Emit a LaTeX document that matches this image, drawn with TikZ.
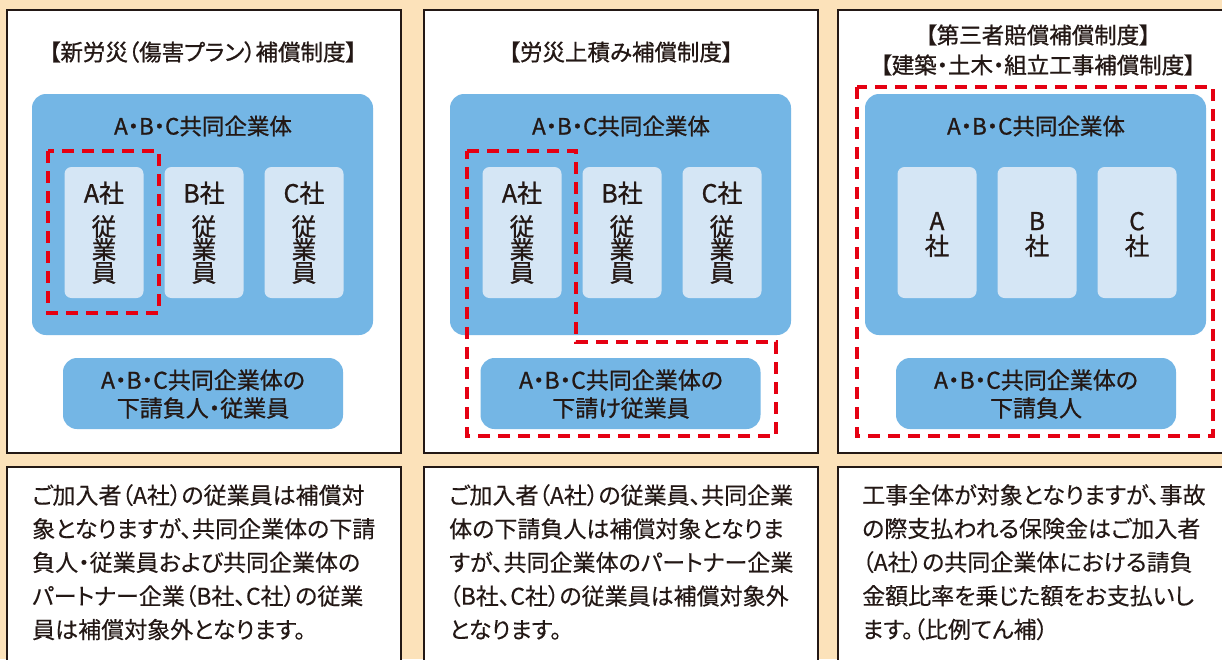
\documentclass[tikz,border=0pt]{standalone}
\usepackage{fontspec}
\setmainfont{Noto Sans CJK JP}[RawFeature=+palt]
\newfontfamily\jpm{Noto Sans CJK JP}[RawFeature=+palt, FakeBold=0.9]
\newfontfamily\jpr{Noto Sans CJK JP}[RawFeature=+palt, FakeBold=0.25]
\definecolor{bgpeach}{HTML}{FCE2BA}
\definecolor{ink}{HTML}{231815}
\definecolor{jvblue}{HTML}{74B6E5}
\definecolor{subblue}{HTML}{D5E6F5}
\definecolor{dashred}{HTML}{E50012}
\tikzset{
  panel/.style={draw=ink, line width=2.5pt, fill=white},
  bigbox/.style={fill=jvblue, rounded corners=14pt},
  subbox/.style={fill=subblue, rounded corners=7pt},
  redline/.style={draw=dashred, line width=3.2pt, dash pattern=on 12pt off 8pt},
  ttl/.style={text=ink, inner sep=0pt, font=\jpm\fontsize{22.5}{24}\selectfont},
  lbl/.style={text=ink, inner sep=0pt, font=\jpm\fontsize{23}{28}\selectfont, align=center},
  co/.style={text=ink, inner sep=0pt, font=\jpm\fontsize{22.5}{24}\selectfont},
  cotag/.style={text=ink, inner sep=0pt, font=\jpm\fontsize{25}{26}\selectfont},
  vert/.style={text=ink, inner sep=0pt, font=\jpm\fontsize{24.5}{23}\selectfont, align=center},
  vert3/.style={text=ink, inner sep=0pt, font=\jpm\fontsize{24.5}{25}\selectfont, align=center},
  body/.style={text=ink, inner sep=0pt, anchor=north west, align=left, font=\jpr\fontsize{23}{33.6}\selectfont},
}
\begin{document}
\begin{tikzpicture}[x=1pt,y=-1pt]
\useasboundingbox (0,0) rectangle (1222,659);
\fill[bgpeach] (0,0) rectangle (1222,659);
% panels
\draw[panel] (7,10) rectangle (401,453);
\draw[panel] (424,10) rectangle (818,453);
\draw[panel] (838,10) rectangle (1240,453);
\draw[panel] (7,467) rectangle (401,690);
\draw[panel] (424,467) rectangle (818,690);
\draw[panel] (838,467) rectangle (1240,690);

% ---------- panel 1 ----------
\node[ttl] (t1) at (203,52) {【新労災（傷害プラン）補償制度】};
\node[bigbox, minimum width=341pt, minimum height=241pt] (j1) at (202.5,214.5) {};
\node[co] (j1l) at (203,126) {A・B・C共同企業体};
\foreach \n/\c/\cx in {a/A/104, b/B/204, c/C/304}{
  \node[subbox, minimum width=79pt, minimum height=131pt] (s1\n) at (\cx,232.5) {};
  \node[cotag] (s1\n t) at (\cx,193) {\c 社};
  \node[vert] (s1\n v) at (\cx,249.5) {従\\業\\員};
}
\draw[redline] (48,151) rectangle (159,313);
\node[bigbox, minimum width=280pt, minimum height=71pt] (u1) at (203,393.5) {};
\node[lbl] (u1l) at (203,394) {A・B・C共同企業体の\\下請負人・従業員};

% ---------- panel 2 ----------
\node[ttl] (t2) at (621,52) {【労災上積み補償制度】};
\node[bigbox, minimum width=341pt, minimum height=241pt] (j2) at (620.5,214.5) {};
\node[co] (j2l) at (621,126) {A・B・C共同企業体};
\foreach \n/\c/\cx in {a/A/522, b/B/622, c/C/722}{
  \node[subbox, minimum width=79pt, minimum height=131pt] (s2\n) at (\cx,232.5) {};
  \node[cotag] (s2\n t) at (\cx,193) {\c 社};
  \node[vert] (s2\n v) at (\cx,249.5) {従\\業\\員};
}
\node[bigbox, minimum width=280pt, minimum height=71pt] (u2) at (620.5,393.5) {};
\node[lbl] (u2l) at (621,394) {A・B・C共同企業体の\\下請け従業員};
\draw[redline] (467,151) -- (576,151) -- (576,342) -- (776,342) -- (776,436) -- (467,436) -- cycle;

% ---------- panel 3 ----------
\node[ttl] (t3a) at (1038,35) {【第三者賠償補償制度】};
\node[ttl] (t3b) at (1038,65) {【建築・土木・組立工事補償制度】};
\node[bigbox, minimum width=341pt, minimum height=241pt] (j3) at (1035.5,214.5) {};
\node[co] (j3l) at (1036,126) {A・B・C共同企業体};
\foreach \n/\c/\cx in {a/A/937, b/B/1037, c/C/1137}{
  \node[subbox, minimum width=79pt, minimum height=131pt] (s3\n) at (\cx,232.5) {};
  \node[vert3] (s3\n v) at (\cx,234.5) {\c\\社};
}
\node[bigbox, minimum width=280pt, minimum height=71pt] (u3) at (1036,393.5) {};
\node[lbl] (u3l) at (1036,394) {A・B・C共同企業体の\\下請負人};
\draw[redline] (857,87) rectangle (1213,436);

% ---------- bottom texts ----------
\node[body] (b1) at (32,484) {ご加入者（A社）の従業員は補償対\\象となりますが、共同企業体の下請\\負人・従業員および共同企業体の\\パートナー企業（B社、C社）の従業\\員は補償対象外となります。};
\node[body] (b2) at (449,484) {ご加入者（A社）の従業員、共同企業\\体の下請負人は補償対象となりま\\すが、共同企業体のパートナー企業\\（B社、C社）の従業員は補償対象外\\となります。};
\node[body] (b3) at (862,484) {工事全体が対象となりますが、事故\\の際支払われる保険金はご加入者\\（A社）の共同企業体における請負\\金額比率を乗じた額をお支払いし\\ます。（比例てん補）};
\end{tikzpicture}
\end{document}
